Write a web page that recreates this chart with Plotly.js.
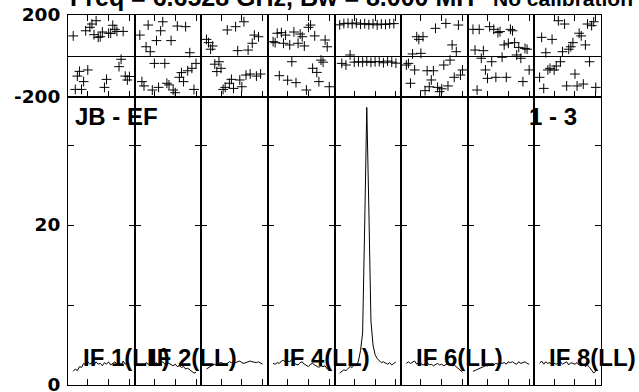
<!DOCTYPE html>
<html><head><meta charset="utf-8">
<script src="https://cdn.plot.ly/plotly-3.0.1.min.js"></script>
<style>html,body{margin:0;padding:0;background:#fff;}#chart{width:639px;height:392px;}</style>
</head><body><div id="chart"></div>
<script>
// Channel numbers (x within each IF panel)
const channels = [3,4,5,6,7,8,9,10,11,12,13,14,15,16,17,18,19,20,21,22,23,24,25,26,27,28,29,30];
const channelTicks = [10,20,30];

// Phase (degrees) per IF, channels 3..30
const phaseIF1 = [98,-163,-98,-75,-163,-125,123,-68,140,156,104,172,91,94,117,-153,-114,111,111,150,130,120,-52,-16,120,-98,-117,-100];
const phaseIF2 = [102,-125,-146,45,151,21,-166,-36,75,-153,123,167,-36,-133,-141,75,-166,-179,146,-104,-81,-125,143,-72,16,-60,-163,-36];
const phaseIF3 = [81,65,33,49,-40,-76,-28,-60,-163,-153,127,-133,-114,-158,143,26,-117,-150,167,-93,29,-88,62,102,-98,94,-88,null];
const phaseIF4 = [70,65,111,-96,114,62,102,-118,54,-28,117,-130,62,107,94,49,-166,140,151,-60,98,-80,-125,-20,-30,78,45,-150];
const phaseIF5 = [152,-36,158,-44,160,5,157,-30,161,-28,155,-30,158,-26,153,-31,157,-28,152,-27,156,-33,154,-25,157,-30,158,-35];
const phaseIF6 = [-44,-36,-133,10,-68,94,81,13,94,-169,-72,-150,-117,-72,135,-153,-174,-160,-44,159,-146,-20,54,-104,21,151,-93,-68];
const phaseIF7 = [130,29,-166,130,-11,26,-68,-109,143,-28,130,-104,114,119,-6,54,-104,62,130,123,65,5,42,-11,-125,37,33,-68];
const phaseIF8 = [-104,91,-158,16,-68,-60,81,-68,-49,172,-28,21,156,-146,33,45,65,-88,-146,111,98,-137,54,156,-28,148,167,-153];

// Amplitude per IF, channels 3..30
const ampIF1 = [1.7,2.0,1.8,2.3,2.2,2.7,2.5,2.9,2.6,2.8,2.5,2.9,2.6,2.7,2.4,2.8,2.6,2.9,2.5,2.7,2.9,2.6,2.8,2.5,3.0,2.6,2.8,2.6];
const ampIF2 = [2.4,2.6,2.5,2.8,2.6,2.7,2.9,2.6,2.8,2.5,2.7,2.9,2.6,2.8,2.7,2.5,2.4,2.6,2.3,2.4,2.2,2.3,2.0,2.1,1.9,1.7,1.5,1.6];
const ampIF3 = [2.0,2.2,2.3,2.5,2.6,2.4,2.7,2.8,2.7,2.6,2.7,2.9,2.8,2.9,2.8,2.9,3.0,2.8,2.7,2.8,2.9,3.0,2.9,2.8,2.8,2.9,2.7,2.6];
const ampIF4 = [2.7,2.6,2.8,2.7,3.0,3.1,2.8,3.0,2.9,3.2,2.7,2.6,2.5,2.8,2.9,2.6,2.4,2.3,2.6,2.7,2.5,2.4,2.2,2.4,2.3,2.4,2.0,1.8];
const ampIF5 = [1.5,1.7,1.9,1.8,2.1,2.3,2.2,2.5,2.4,3.0,4.3,6.5,20,34.7,22,8,5.0,3.8,3.3,3.0,2.8,2.9,2.7,2.6,2.8,2.5,2.7,2.9];
const ampIF6 = [2.7,2.9,2.7,2.8,3.0,2.6,2.8,2.7,2.5,2.6,2.8,2.5,2.6,2.4,2.6,2.7,2.5,2.6,2.4,2.5,2.7,2.6,2.4,2.5,2.3,2.1,1.8,1.6];
const ampIF7 = [1.7,1.8,2.0,2.1,2.2,2.3,2.4,2.4,2.5,2.6,2.5,2.7,2.6,2.8,2.7,2.8,2.6,2.9,2.8,2.9,2.7,2.6,2.9,2.7,2.8,2.9,2.7,2.6];
const ampIF8 = [2.7,3.0,2.6,2.9,2.7,2.8,2.5,2.7,2.6,2.8,2.9,2.6,2.7,2.9,2.5,2.8,2.7,2.6,2.8,2.5,2.4,2.6,2.3,2.5,2.2,1.9,1.5,1.7];

const panelLabels = ['IF 1(LL)','IF 2(LL)','','IF 4(LL)','','IF 6(LL)','','IF 8(LL)'];
const ampTickVals = [0,10,20,30];
const ampTickText = ['0','','20',''];
const phaseTickVals = [-200,200];
const phaseTickText = ['-200','200'];
const titleText = 'Freq = 6.6528 GHz, Bw = 8.000 MH';
const titleText2 = 'No calibration applied';
const baselineText = 'JB - EF';
const timeText = '1 - 3';

const phases = [phaseIF1,phaseIF2,phaseIF3,phaseIF4,phaseIF5,phaseIF6,phaseIF7,phaseIF8];
const amps = [ampIF1,ampIF2,ampIF3,ampIF4,ampIF5,ampIF6,ampIF7,ampIF8];

// Pixel geometry helpers
const L = 68, T = 15, W = 533, H = 370;
const fx = p => (p - L) / W;
const fy = p => (T + H - p) / H;
const split = fy(97);

const labelFont = {family: 'DejaVu Sans', size: 18.5, color: '#000', weight: 700};
const annFont = {family: 'Liberation Sans, Arial, sans-serif', size: 24, color: '#000', weight: 700};

const data = [];
const layout = {
  width: 639, height: 392,
  margin: {l: L, r: 639 - L - W, t: T, b: 392 - T - H, pad: 0},
  paper_bgcolor: '#fff', plot_bgcolor: '#fff',
  showlegend: false,
  annotations: []
};

const n = phases.length;
for (let i = 0; i < n; i++) {
  const ia = i + 1, ip = i + 1 + n;
  const xa = ia === 1 ? 'x' : 'x' + ia, ya = ia === 1 ? 'y' : 'y' + ia;
  const xp = 'x' + ip, yp = 'y' + ip;
  const dom = [i / n, (i + 1) / n];
  const common = {showgrid: false, zeroline: false, showline: true, linecolor: '#000', linewidth: 1,
                  ticks: 'inside', ticklen: 6, tickcolor: '#000', tickwidth: 1};
  layout['xaxis' + (ia === 1 ? '' : ia)] = Object.assign({}, common, {
    domain: dom, anchor: ya, range: [0.5, 32.5], tickvals: channelTicks,
    showticklabels: false, mirror: true});
  layout['yaxis' + (ia === 1 ? '' : ia)] = Object.assign({}, common, {
    domain: [0, split], anchor: xa, range: [0, 36], tickvals: ampTickVals, ticktext: ampTickText,
    showticklabels: i === 0, mirror: 'ticks', tickfont: labelFont, ticklabelstandoff: 3,
    ticklabeloverflow: 'allow'});
  layout['xaxis' + ip] = Object.assign({}, common, {
    domain: dom, anchor: yp, range: [0.5, 32.5], tickvals: channelTicks,
    showticklabels: false, mirror: 'ticks'});
  layout['yaxis' + ip] = Object.assign({}, common, {
    domain: [split, 1], anchor: xp, range: [-200, 200], tickvals: phaseTickVals, ticktext: phaseTickText,
    ticks: '', showticklabels: i === 0, mirror: true, tickfont: labelFont, ticklabelstandoff: 3,
    ticklabeloverflow: 'allow',
    zeroline: true, zerolinecolor: '#000', zerolinewidth: 1});

  data.push({x: channels, y: amps[i], xaxis: xa, yaxis: ya, type: 'scatter', mode: 'lines',
             line: {color: '#000', width: 1}, hoverinfo: 'skip'});
  data.push({x: channels, y: phases[i], xaxis: xp, yaxis: yp, type: 'scatter', mode: 'markers',
             marker: {symbol: 'cross-thin', size: 7, color: '#000', line: {color: '#000', width: 1}},
             hoverinfo: 'skip', cliponaxis: false});

  if (panelLabels[i]) {
    layout.annotations.push({text: panelLabels[i], xref: 'paper', yref: 'paper',
      x: i / n + fx(L + 13), y: fy(357), xanchor: 'left', yanchor: 'middle',
      showarrow: false, font: annFont});
  }
}
layout.annotations.push({text: baselineText, xref: 'paper', yref: 'paper', x: fx(73), y: fy(116),
  xanchor: 'left', yanchor: 'middle', showarrow: false, font: annFont});
layout.annotations.push({text: timeText, xref: 'paper', yref: 'paper', x: fx(527), y: fy(116),
  xanchor: 'left', yanchor: 'middle', showarrow: false, font: annFont});
layout.annotations.push({text: titleText, xref: 'paper', yref: 'paper', x: fx(68), y: fy(-3),
  xanchor: 'left', yanchor: 'middle', showarrow: false,
  font: Object.assign({}, annFont, {size: 25})});
layout.annotations.push({text: titleText2, xref: 'paper', yref: 'paper', x: fx(491), y: fy(-2),
  xanchor: 'left', yanchor: 'middle', showarrow: false,
  font: Object.assign({}, annFont, {size: 21})});

Plotly.newPlot('chart', data, layout, {staticPlot: true, displayModeBar: false});
</script>
</body></html>
